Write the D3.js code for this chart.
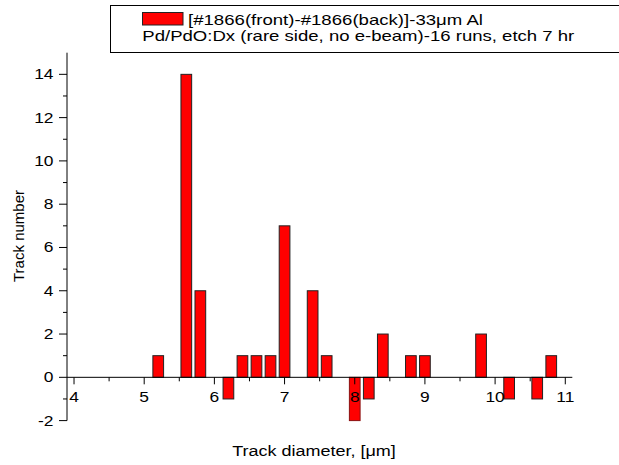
<!DOCTYPE html>
<html><head><meta charset="utf-8">
<script src="https://cdn.jsdelivr.net/npm/d3@7"></script>
<style>
body{margin:0;background:#fff;}
text{font-family:"Liberation Sans",Arial,sans-serif;fill:#000;}
</style></head>
<body>
<svg id="c" width="619" height="465"></svg>
<script>
// ---- data ----
const binCenters = [5.2, 5.6, 5.8, 6.2, 6.4, 6.6, 6.8, 7.0, 7.4, 7.6, 8.0, 8.2, 8.4, 8.8, 9.0, 9.8, 10.2, 10.6, 10.8];
const trackCounts = [1, 14, 4, -1, 1, 1, 1, 7, 4, 1, -2, -1, 2, 1, 1, 2, -1, -1, 1];
const xTickValues = [4, 5, 6, 7, 8, 9, 10, 11];
const yTickValues = [-2, 0, 2, 4, 6, 8, 10, 12, 14];
const legendLine1 = "[#1866(front)-#1866(back)]-33\u03BCm Al";
const legendLine2 = "Pd/PdO:Dx (rare side, no e-beam)-16 runs, etch 7 hr";
const xTitle = "Track diameter, [\u03BCm]";
const yTitle = "Track number";

const svg = d3.select("#c");
const SX = 1.2; // horizontal text stretch seen in reference
const x = d3.scaleLinear().domain([3.9, 11.1]).range([67, 572.3]);
const y = d3.scaleLinear().domain([-2, 15]).range([420.6, 52.7]);
const barW = 0.1668;
const minVal = d3.min(trackCounts);

const data = binCenters.map((c, i) => ({c, v: trackCounts[i]}));

// bars
svg.append("g").selectAll("rect").data(data).join("rect")
  .attr("x", d => x(d.c - barW / 2) + 0.5)
  .attr("width", d => x(d.c + barW / 2) - x(d.c - barW / 2) - 1)
  .attr("y", d => Math.min(y(d.v), y(0)))
  .attr("height", d => Math.abs(y(d.v) - y(0)))
  .attr("fill", "#ff0000")
  .attr("stroke", d => d.v === minVal ? "#8b1010" : "#222")
  .attr("stroke-width", 1);

// x axis at y=0
const y0 = y(0);
const gx = svg.append("g").attr("transform", `translate(0,${y0})`);
gx.append("line").attr("x1", x.range()[0]).attr("x2", x.range()[1]).attr("stroke", "#000");
gx.selectAll("line.maj").data(xTickValues).join("line").attr("class","maj")
  .attr("x1", d => x(d)).attr("x2", d => x(d)).attr("y1", 0).attr("y2", 7).attr("stroke", "#000");
gx.selectAll("line.min").data(xTickValues.slice(0, -1).map(d => d + 0.5)).join("line").attr("class","min")
  .attr("x1", d => x(d)).attr("x2", d => x(d)).attr("y1", 0).attr("y2", 4).attr("stroke", "#000");
gx.selectAll("text").data(xTickValues).join("text")
  .attr("transform", d => `translate(${x(d)},${401.5 - y0}) scale(${SX},1)`)
  .attr("text-anchor", "middle").attr("font-size", 14.5).text(d => d);

// y axis
const xa = x(3.9);
const gy = svg.append("g").attr("transform", `translate(${xa},0)`);
gy.append("line").attr("y1", y.range()[0]).attr("y2", y.range()[1]).attr("stroke", "#000");
gy.selectAll("line.maj").data(yTickValues).join("line").attr("class","maj")
  .attr("y1", d => y(d)).attr("y2", d => y(d)).attr("x1", -8).attr("x2", 0).attr("stroke", "#000");
gy.selectAll("line.min").data(d3.range(-1, 15, 2)).join("line").attr("class","min")
  .attr("y1", d => y(d)).attr("y2", d => y(d)).attr("x1", -4).attr("x2", 0).attr("stroke", "#000");
gy.selectAll("text").data(yTickValues).join("text")
  .attr("transform", d => `translate(-13.5,${y(d) + 5}) scale(${SX},1)`)
  .attr("text-anchor", "end").attr("font-size", 14.5).text(d => d);

// axis titles
svg.append("text").attr("transform", `translate(18.5,236) rotate(-90)`)
  .attr("text-anchor", "middle").attr("dy", "0.35em").attr("font-size", 15).text(yTitle);
svg.append("text").attr("transform", `translate(314,456) scale(${SX},1)`)
  .attr("text-anchor", "middle").attr("font-size", 15).text(xTitle);

// legend
const lg = svg.append("g");
lg.append("rect").attr("x", 110.5).attr("y", 5.5).attr("width", 530).attr("height", 47)
  .attr("fill", "#fff").attr("stroke", "#000");
lg.append("rect").attr("x", 142.5).attr("y", 12.5).attr("width", 40.5).attr("height", 12.5)
  .attr("fill", "#ff0000").attr("stroke", "#222");
lg.append("text").attr("x", 188).attr("y", 24.8).attr("font-size", 14.5)
  .attr("textLength", 295).attr("lengthAdjust", "spacingAndGlyphs").text(legendLine1);
lg.append("text").attr("x", 142.3).attr("y", 41).attr("font-size", 14.5)
  .attr("textLength", 432).attr("lengthAdjust", "spacingAndGlyphs").text(legendLine2);
</script>
</body></html>
